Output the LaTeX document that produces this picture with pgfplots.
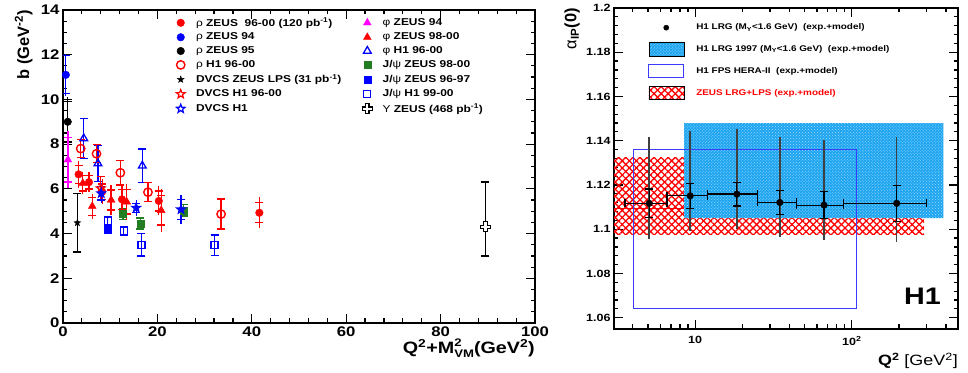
\documentclass[border=0pt]{standalone}
\usepackage{fontspec}
\setmainfont{Liberation Sans}[FakeStretch=1.2]
\newfontfamily\plainsans{Liberation Sans}
\usepackage{pgfplots}
\pgfplotsset{compat=1.18}
\usetikzlibrary{patterns,patterns.meta}
\definecolor{zgreen}{RGB}{35,125,35}
\definecolor{azfill}{RGB}{30,165,240}
\definecolor{fpsblue}{RGB}{60,60,255}
\definecolor{magen}{RGB}{255,0,255}

\pgfdeclareplotmark{ocross}{%
  \pgfpathmoveto{\pgfqpoint{-0.35\pgfplotmarksize}{\pgfplotmarksize}}%
  \pgfpathlineto{\pgfqpoint{0.35\pgfplotmarksize}{\pgfplotmarksize}}%
  \pgfpathlineto{\pgfqpoint{0.35\pgfplotmarksize}{0.35\pgfplotmarksize}}%
  \pgfpathlineto{\pgfqpoint{\pgfplotmarksize}{0.35\pgfplotmarksize}}%
  \pgfpathlineto{\pgfqpoint{\pgfplotmarksize}{-0.35\pgfplotmarksize}}%
  \pgfpathlineto{\pgfqpoint{0.35\pgfplotmarksize}{-0.35\pgfplotmarksize}}%
  \pgfpathlineto{\pgfqpoint{0.35\pgfplotmarksize}{-\pgfplotmarksize}}%
  \pgfpathlineto{\pgfqpoint{-0.35\pgfplotmarksize}{-\pgfplotmarksize}}%
  \pgfpathlineto{\pgfqpoint{-0.35\pgfplotmarksize}{-0.35\pgfplotmarksize}}%
  \pgfpathlineto{\pgfqpoint{-\pgfplotmarksize}{-0.35\pgfplotmarksize}}%
  \pgfpathlineto{\pgfqpoint{-\pgfplotmarksize}{0.35\pgfplotmarksize}}%
  \pgfpathlineto{\pgfqpoint{-0.35\pgfplotmarksize}{0.35\pgfplotmarksize}}%
  \pgfpathclose
  \pgfusepathqfillstroke}
\def\starpath{%
  \pgfpathmoveto{\pgfpointpolar{90}{\pgfplotmarksize}}%
  \pgfpathlineto{\pgfpointpolar{126}{0.42\pgfplotmarksize}}%
  \pgfpathlineto{\pgfpointpolar{162}{\pgfplotmarksize}}%
  \pgfpathlineto{\pgfpointpolar{198}{0.42\pgfplotmarksize}}%
  \pgfpathlineto{\pgfpointpolar{234}{\pgfplotmarksize}}%
  \pgfpathlineto{\pgfpointpolar{270}{0.42\pgfplotmarksize}}%
  \pgfpathlineto{\pgfpointpolar{306}{\pgfplotmarksize}}%
  \pgfpathlineto{\pgfpointpolar{342}{0.42\pgfplotmarksize}}%
  \pgfpathlineto{\pgfpointpolar{18}{\pgfplotmarksize}}%
  \pgfpathlineto{\pgfpointpolar{54}{0.42\pgfplotmarksize}}%
  \pgfpathclose}
\pgfdeclareplotmark{pstar}{\starpath\pgfusepathqfillstroke}
\pgfdeclareplotmark{ostar}{\starpath\pgfusepathqstroke}

\pgfplotsset{
  outer/.style={forget plot, only marks, mark=none, error bars/y dir=both, error bars/y explicit,
    error bars/error mark=none, error bars/error bar style={line width=1.3bp}},
  inner/.style={forget plot, only marks, error bars/y dir=both, error bars/y explicit,
    error bars/error bar style={line width=1.3bp}, error bars/error mark options={rotate=90, line width=1.3bp, mark size=4bp}},
}

\begin{document}
\begin{tikzpicture}
\path[use as bounding box] (0,0) rectangle (968bp,373bp);
% ---------------- left panel ----------------
\begin{axis}[
  at={(63bp,50bp)}, anchor=south west, width=472bp, height=313bp, scale only axis,
  xmin=0, xmax=100, ymin=0, ymax=14,
  xtick={0,20,40,60,80,100}, ytick={0,2,4,6,8,10,12,14},
  minor x tick num=4, minor y tick num=3,
  tick align=inside, major tick length=9bp, minor tick length=4.5bp,
  axis line style={line width=1.5bp},
  every tick/.style={black, line width=1.2bp},
  /pgf/number format/assume math mode=true,
  ticklabel style={font=\fontsize{14}{14}\selectfont\bfseries},
  xlabel={Q\textsuperscript{2}+M\raisebox{-3.6bp}{\fontsize{11}{10.5}\selectfont\shortstack[l]{2\\VM}}(GeV\textsuperscript{2})},
  xlabel style={at={(axis description cs:1,-0.05)}, anchor=north east, inner sep=0pt, font=\fontsize{16.5}{17}\selectfont\bfseries},
  ylabel={b (GeV\textsuperscript{-2})},
  ylabel style={at={(axis description cs:-0.064,1)}, anchor=south east, inner sep=0pt, font=\plainsans\fontsize{16.5}{17}\selectfont\bfseries},
  legend columns=2,
  legend cell align=left,
  legend style={at={(axis description cs:0.231,0.982)}, anchor=north west, draw=none, fill=none, inner sep=0pt,
    nodes={inner sep=2bp}, row sep=1.3bp, column sep=4.8bp, font=\fontsize{10}{11}\selectfont\bfseries},
  legend image code/.code={\path[draw=none] (0bp,0bp) -- (17bp,0bp); \draw[#1] plot coordinates {(8.5bp,0bp)};},
]
\addlegendimage{mark=*, red, mark size=3.8bp}
\addlegendentry{\makebox[156bp][l]{{\mdseries ρ} ZEUS\ \ 96-00 (120 pb\textsuperscript{-1})}}
\addlegendimage{mark=triangle*, magen, mark size=4.5bp}
\addlegendentry{{\mdseries φ} ZEUS 94}
\addlegendimage{mark=*, blue, mark size=3.8bp}
\addlegendentry{\makebox[156bp][l]{{\mdseries ρ} ZEUS 94}}
\addlegendimage{mark=triangle*, red, mark size=4.5bp}
\addlegendentry{{\mdseries φ} ZEUS 98-00}
\addlegendimage{mark=*, black, mark size=3.8bp}
\addlegendentry{\makebox[156bp][l]{{\mdseries ρ} ZEUS 95}}
\addlegendimage{mark=triangle, blue, mark size=4.5bp, mark options={line width=1.3bp}}
\addlegendentry{{\mdseries φ} H1 96-00}
\addlegendimage{mark=o, red, mark size=4.2bp, mark options={line width=1.4bp}}
\addlegendentry{\makebox[156bp][l]{{\mdseries ρ} H1 96-00}}
\addlegendimage{mark=square*, zgreen, mark size=3.5bp}
\addlegendentry{J/{\mdseries ψ} ZEUS 98-00}
\addlegendimage{mark=pstar, black, mark size=3.5bp}
\addlegendentry{\makebox[156bp][l]{DVCS ZEUS LPS (31 pb\textsuperscript{-1})}}
\addlegendimage{mark=square*, blue, mark size=3.5bp}
\addlegendentry{J/{\mdseries ψ} ZEUS 96-97}
\addlegendimage{mark=ostar, red, mark size=4.5bp, mark options={line width=1.2bp}}
\addlegendentry{\makebox[156bp][l]{DVCS H1 96-00}}
\addlegendimage{mark=square, blue, mark size=3.5bp, mark options={line width=1.2bp}}
\addlegendentry{J/{\mdseries ψ} H1 99-00}
\addlegendimage{mark=ostar, blue, mark size=4.5bp, mark options={line width=1.2bp}}
\addlegendentry{\makebox[156bp][l]{DVCS H1}}
\addlegendimage{mark=ocross, black, mark size=5bp, mark options={fill=white, line width=1.2bp}}
\addlegendentry{{\mdseries Υ} ZEUS (468 pb\textsuperscript{-1})}

% rho ZEUS 94 (blue)
\addplot[outer, blue] coordinates {(0.6,11.1) +- (0,0.95)};
\addplot[inner, blue, mark=*, mark size=3.8bp] coordinates {(0.6,11.1) +- (0,0.85)};
% rho ZEUS 95 (black)
\addplot[outer, black] coordinates {(1.0,9.0) +- (0,1.1)};
\addplot[inner, black, mark=*, mark size=3.8bp] coordinates {(1.0,9.0) +- (0,0.9)};
% phi ZEUS 94 (magenta)
\addplot[outer, magen] coordinates {(1.04,7.3) +- (0,1.28)};
\addplot[inner, magen, mark=triangle*, mark size=4.5bp] coordinates {(1.04,7.3) +- (0,1.0)};
% DVCS ZEUS LPS
\addplot[inner, black, mark=pstar, mark size=3.5bp] coordinates {(3.05,4.48) +- (0,1.3)};
% J/psi ZEUS 98-00
\addplot[inner, zgreen, mark=square*, mark size=3.5bp] coordinates {(12.7,4.87) +- (0,0.25) (16.4,4.45) +- (0,0.25) (25.6,5.04) +- (0,0.25)};
% J/psi ZEUS 96-97
\addplot[inner, blue, mark=square*, mark size=3.5bp] coordinates {(9.5,4.18) +- (0,0.15)};
% J/psi H1 99-00
\addplot[inner, blue, mark=square, mark size=3.5bp, mark options={line width=1.3bp}] coordinates {(9.5,4.57) +- (0,0.2) (12.85,4.1) +- (0,0.2) (16.6,3.5) +- (0,0.5) (32.1,3.48) +- (0,0.45)};
% phi H1 96-00
\addplot[inner, blue, mark=triangle, mark size=4.5bp, mark options={line width=1.3bp}] coordinates {(4.4,8.25) +- (0,0.9) (7.4,7.13) +- (0,0.8) (16.8,7.03) +- (0,0.75)};
% phi ZEUS 98-00
\addplot[outer, red] coordinates {(4.2,6.25) +- (0,0.5) (6.2,5.22) +- (0,0.56) (10.2,5.5) +- (0,0.67) (13.5,5.42) +- (0,0.8) (20.8,5.04) +- (0,0.95)};
\addplot[inner, red, mark=triangle*, mark size=4.5bp] coordinates {(4.2,6.25) +- (0,0.35) (6.2,5.22) +- (0,0.4) (10.2,5.5) +- (0,0.45) (13.5,5.42) +- (0,0.55) (20.8,5.04) +- (0,0.65)};
% rho H1 96-00
\addplot[inner, red, mark=o, mark size=4.2bp, mark options={line width=1.4bp}] coordinates {(3.75,7.8) +- (0,0.4) (7.1,7.57) +- (0,0.4) (12.15,6.72) +- (0,0.55) (18.0,5.85) +- (0,0.42) (33.5,4.87) +- (0,0.67)};
% rho ZEUS 96-00
\addplot[outer, red] coordinates {(3.3,6.65) +- (0,0.6) (5.5,6.3) +- (0,0.45) (8.3,5.87) +- (0,0.55) (12.5,5.53) +- (0,0.65) (20.3,5.46) +- (0,0.65) (41.6,4.93) +- (0,0.7)};
\addplot[inner, red, mark=*, mark size=3.8bp] coordinates {(3.3,6.65) +- (0,0.4) (5.5,6.3) +- (0,0.3) (8.3,5.87) +- (0,0.35) (12.5,5.53) +- (0,0.45) (20.3,5.46) +- (0,0.45) (41.6,4.93) +- (0,0.45)};
% DVCS H1 96-00
\addplot[inner, red, mark=ostar, mark size=4.5bp, mark options={line width=1.2bp}] coordinates {(8.0,6.02) +- (0,0.52)};
% DVCS H1
\addplot[outer, blue] coordinates {(8.1,5.8) +- (0,0.45) (15.5,5.15) +- (0,0.35) (25.0,5.08) +- (0,0.65)};
\addplot[inner, blue, mark=ostar, mark size=4.5bp, mark options={line width=1.2bp}] coordinates {(8.1,5.8) +- (0,0.3) (15.5,5.15) +- (0,0.2) (25.0,5.08) +- (0,0.45)};
% Upsilon ZEUS
\addplot[inner, black, mark=ocross, mark size=5bp, mark options={fill=white, line width=1.2bp}] coordinates {(89.5,4.3) += (0,2.0) -= (0,1.3)};
\end{axis}

% ---------------- right panel ----------------
\begin{axis}[
  at={(614bp,44bp)}, anchor=south west, width=344bp, height=321bp, scale only axis,
  xmode=log, xmin=3.03, xmax=477, ymin=1.0549, ymax=1.2,
  xtick={10,100}, xticklabels={10,10\textsuperscript{2}},
  minor xtick={4,5,6,7,8,9,20,30,40,50,60,70,80,90,200,300,400},
  ytick={1.06,1.08,1.1,1.12,1.14,1.16,1.18,1.2},
  yticklabels={1.06,1.08,1.1,1.12,1.14,1.16,1.18,1.2},
  minor y tick num=4,
  tick align=inside, major tick length=9bp, minor tick length=4.5bp,
  axis line style={line width=1.5bp},
  every tick/.style={black, line width=1.2bp},
  ticklabel style={font=\fontsize{10.5}{11}\selectfont\bfseries},
  xticklabel style={yshift=-4bp},
  xlabel={Q\textsuperscript{2} {\mdseries [GeV\textsuperscript{2}]}},
  xlabel style={at={(axis description cs:1,-0.075)}, anchor=north east, inner sep=0pt, font=\fontsize{15}{16}\selectfont\bfseries},
  ylabel={{\mdseries α}\textsubscript{IP}(0)},
  ylabel style={at={(axis description cs:-0.099,1)}, anchor=south east, inner sep=0pt, font=\plainsans\fontsize{16.5}{17}\selectfont\bfseries},
  legend cell align=left,
  legend style={at={(axis description cs:0.099,0.958)}, anchor=north west, draw=none, fill=none, inner sep=0pt,
    nodes={inner sep=2bp}, row sep=8bp, column sep=10bp, font=\fontsize{8.3}{10}\selectfont\bfseries},
]
\addlegendimage{legend image code/.code={\path[draw=none,fill=none] (0bp,-6bp) rectangle (35bp,6bp); \fill[black] (17.5bp,0bp) circle (2.6bp);}}
\addlegendentry{H1 LRG (M\textsubscript{Y}<1.6 GeV)\ \ (exp.+model)}
\addlegendimage{legend image code/.code={\fill[azfill] (0bp,-7bp) rectangle (35bp,7bp); \fill[pattern=crosshatch dots, pattern color=white!60!azfill] (0bp,-7bp) rectangle (35bp,7bp);}}
\addlegendentry{H1 LRG 1997 (M\textsubscript{Y}<1.6 GeV)\ \ (exp.+model)}
\addlegendimage{legend image code/.code={\draw[fpsblue, line width=1bp] (0bp,-6.5bp) rectangle (35bp,6.5bp);}}
\addlegendentry{H1 FPS HERA-II\ \ (exp.+model)}
\addlegendimage{legend image code/.code={\fill[pattern={Lines[angle=45,distance=5bp,line width=1.3bp]}, pattern color=red] (0bp,-6.5bp) rectangle (35bp,6.5bp); \fill[pattern={Lines[angle=-45,distance=5bp,line width=1.3bp]}, pattern color=red] (0bp,-6.5bp) rectangle (35bp,6.5bp);}}
\addlegendentry[text=red]{ZEUS LRG+LPS (exp.+model)}

% ZEUS LRG+LPS band
\addplot[forget plot, draw=none, pattern={Lines[angle=45,distance=5bp,line width=1.3bp]}, pattern color=red] coordinates {(3.03,1.0974) (290,1.0974) (290,1.1325) (3.03,1.1325) (3.03,1.0974)};
\addplot[forget plot, draw=none, pattern={Lines[angle=-45,distance=5bp,line width=1.3bp]}, pattern color=red] coordinates {(3.03,1.0974) (290,1.0974) (290,1.1325) (3.03,1.1325) (3.03,1.0974)};
\addplot[forget plot, red, line width=1bp] coordinates {(3.03,1.1095) (290,1.1095)};
% H1 LRG 1997 band
\addplot[forget plot, draw=none, fill=azfill] coordinates {(8.5,1.105) (385,1.105) (385,1.148) (8.5,1.148) (8.5,1.105)};
\addplot[forget plot, draw=none, pattern=crosshatch dots, pattern color=white!60!azfill] coordinates {(8.5,1.105) (385,1.105) (385,1.148) (8.5,1.148) (8.5,1.105)};
% H1 FPS HERA-II box
\addplot[forget plot, fpsblue, line width=1bp] coordinates {(4.06,1.0641) (107.6,1.0641) (107.6,1.1361) (4.06,1.1361) (4.06,1.0641)};
% H1 LRG points: total error
\addplot[outer, black!75, error bars/error bar style={line width=1.6bp}] coordinates {
 (5.09,1.1117) += (0,0.0298) -= (0,0.0161)
 (9.29,1.1151) += (0,0.0293) -= (0,0.0158)
 (18.46,1.1159) += (0,0.0292) -= (0,0.0160)
 (34.7,1.1121) += (0,0.0294) -= (0,0.0158)
 (66.5,1.1109) += (0,0.0294) -= (0,0.0158)
 (193.6,1.1117) += (0,0.0298) -= (0,0.0174)
};
% H1 LRG points: experimental error and bins
\addplot[forget plot, only marks, black, mark=*, mark size=3.3bp,
  error bars/x dir=both, error bars/x explicit, error bars/y dir=both, error bars/y explicit,
  error bars/error bar style={line width=1.2bp}, error bars/error mark options={rotate=90, line width=1.2bp, mark size=4bp}] coordinates {
 (5.09,1.1117) += (1.51,0.0065) -= (1.53,0.0065)
 (9.29,1.1151) += (2.69,0.0056) -= (2.69,0.0057)
 (18.46,1.1159) += (6.52,0.0053) -= (6.48,0.0054)
 (34.7,1.1121) += (9.9,0.0055) -= (9.72,0.0054)
 (66.5,1.1109) += (21.8,0.0062) -= (21.9,0.0060)
 (193.6,1.1117) += (107.4,0.0081) -= (105.3,0.0083)
};
\node[font=\fontsize{24}{24}\selectfont\bfseries] at (axis description cs:0.897,0.101) {H1};
\end{axis}
\end{tikzpicture}
\end{document}
